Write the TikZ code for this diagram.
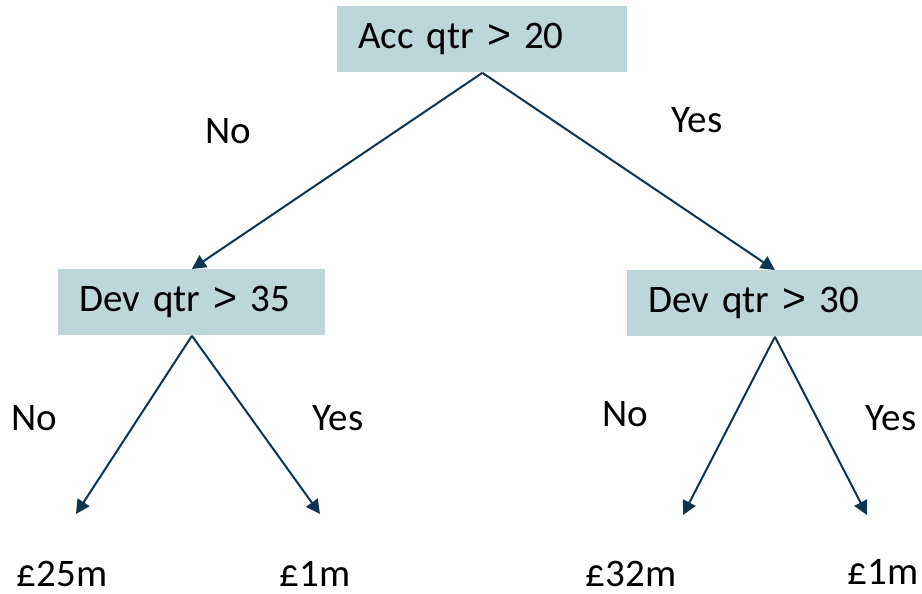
\documentclass[tikz,border=0pt]{standalone}
\usepackage{fontspec}
\usepackage{graphicx}
\setmainfont{Carlito}[WordSpace=0.75]
\newfontfamily\gtfont{Liberation Sans}
\usetikzlibrary{arrows.meta}
\definecolor{boxfill}{HTML}{BCD6DA}
\definecolor{linecol}{HTML}{0B3552}
\newcommand{\gtsign}{{\gtfont\scalebox{1.05}{>}}}
\tikzset{
  split/.style={fill=boxfill, anchor=north west, align=left, inner xsep=10.5pt, inner ysep=0pt, minimum height=33pt},
  branch/.style={line width=1pt, draw=linecol, -{Triangle[length=7pt,width=7pt]}},
  lbl/.style={inner sep=0pt}
}
\begin{document}
\begin{tikzpicture}[x=0.5pt, y=-0.5pt, font=\fontsize{19.5}{23}\selectfont]
  \useasboundingbox (0,0) rectangle (922,594);
  % split boxes
  \node [split, text width=124pt] (acc) at (337,6) {Acc qtr \gtsign{} 20};
  \node [split, text width=112.5pt] (devl) at (58,269) {Dev qtr \gtsign{} 35};
  \node [split, text width=126.5pt] (devr) at (627,270) {Dev qtr \gtsign{} 30};
  % leaves
  \node [lbl] (lfa) at (62,574) {£25m};
  \node [lbl] (lfb) at (315,574) {£1m};
  \node [lbl] (lfc) at (631,574) {£32m};
  \node [lbl] (lfd) at (883,572) {£1m};
  \coordinate (ea) at (76,514);
  \coordinate (eb) at (320,514);
  \coordinate (ec) at (683,515);
  \coordinate (ed) at (867,515);
  % branches
  \draw [branch] (acc.south) -- (devl.north);
  \draw [branch] (acc.south) -- (devr.north);
  \draw [branch] (devl.south) -- (ea);
  \draw [branch] (devl.south) -- (eb);
  \draw [branch] (devr.south) -- (ec);
  \draw [branch] (devr.south) -- (ed);
  % answers
  \node [lbl] (na) at (228,131) {No};
  \node [lbl] (ya) at (697,120) {Yes};
  \node [lbl] (nb) at (34,418) {No};
  \node [lbl] (yb) at (338,418) {Yes};
  \node [lbl] (nc) at (625,414) {No};
  \node [lbl] (yc) at (891,418) {Yes};
\end{tikzpicture}
\end{document}
